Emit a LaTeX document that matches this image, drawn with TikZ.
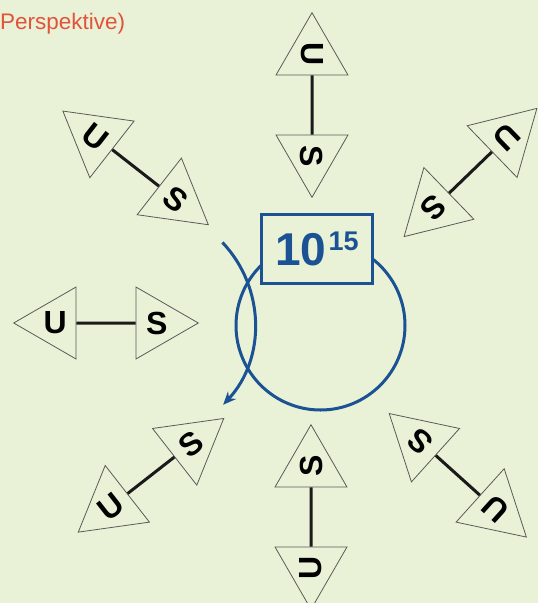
\documentclass[tikz,border=0pt]{standalone}
\usepackage{fontspec}
\setmainfont{Liberation Sans}
\usetikzlibrary{arrows.meta,shapes.geometric}
\definecolor{SpinBg}{HTML}{E9F2D6}
\definecolor{SpinBlue}{HTML}{1B5293}
\definecolor{SpinRed}{HTML}{E2533B}
\definecolor{SpinInk}{HTML}{1A1A1A}
\definecolor{SpinEdge}{HTML}{5A5A5A}

\begin{document}
\begin{tikzpicture}[x=1pt,y=1pt,>=Stealth]
  \tikzset{
    tri/.style={draw=SpinEdge,line width=.8pt,regular polygon,regular polygon sides=3,
      minimum size=83pt,inner sep=0pt,transform shape,font=\fontsize{32}{32}\selectfont\bfseries},
    utri/.style={tri,regular polygon rotate=90},
    stri/.style={tri,regular polygon rotate=-90},
    link/.style={line width=3pt,draw=SpinInk},
    ring/.style={line width=3pt,draw=SpinBlue},
    turn/.style={-{Stealth[length=13pt,width=11pt]},line width=3pt,draw=SpinBlue}
  }
  \path[use as bounding box,fill=SpinBg] (0,0) rectangle (538,-603);
  \node[anchor=base west,inner sep=0pt,text=SpinRed,font=\fontsize{22.5}{27}\selectfont] (persp) at (0,-29) {Perspektive)};
  % U--S pairs round the loop
  \begin{scope}[shift={(312,-105)},rotate=-90]
    \node[utri] (u1) at (-50.8,0) {U};
    \node[stri] (s1) at (50.8,0) {S};
    \draw[link] (u1) -- (s1);
  \end{scope}
  \begin{scope}[shift={(135.6,-167.9)},rotate=-38]
    \node[utri] (u2) at (-50.8,0) {U};
    \node[stri] (s2) at (50.8,0) {S};
    \draw[link] (u2) -- (s2);
  \end{scope}
  \begin{scope}[shift={(470.5,-172.5)},rotate=-136]
    \node[utri] (u3) at (-50.8,0) {U};
    \node[stri] (s3) at (50.8,0) {S};
    \draw[link] (u3) -- (s3);
  \end{scope}
  \begin{scope}[shift={(106,-323)}]
    \node[utri] (u4) at (-50.8,0) {U};
    \node[stri] (s4) at (50.8,0) {S};
    \draw[link] (u4) -- (s4);
  \end{scope}
  \begin{scope}[shift={(151,-475.3)},rotate=38]
    \node[utri] (u5) at (-50.8,0) {U};
    \node[stri] (s5) at (50.8,0) {S};
    \draw[link] (u5) -- (s5);
  \end{scope}
  \begin{scope}[shift={(311,-517)},rotate=90]
    \node[utri] (u6) at (-50.8,0) {U};
    \node[stri] (s6) at (50.8,0) {S};
    \draw[link] (u6) -- (s6);
  \end{scope}
  \begin{scope}[shift={(457.8,-475.3)},rotate=138]
    \node[utri] (u7) at (-50.8,0) {U};
    \node[stri] (s7) at (50.8,0) {S};
    \draw[link] (u7) -- (s7);
  \end{scope}
  % loop and power box
  \node[ring,circle,minimum size=169pt,inner sep=0pt] (loop) at (320.5,-325.5) {};
  \node[ring,fill=SpinBg,minimum width=111pt,minimum height=69pt,inner sep=0pt,
    text=SpinBlue,font=\bfseries] (pow) at (317,-249)
    {\fontsize{46}{46}\selectfont 10\hspace{2pt}\raisebox{15.5pt}{\fontsize{27}{27}\selectfont 15}};
  \coordinate (swing) at (222.4,-242.4);
  \draw[turn] (swing) arc[start angle=43.5,end angle=-43,radius=118.5];
\end{tikzpicture}
\end{document}
